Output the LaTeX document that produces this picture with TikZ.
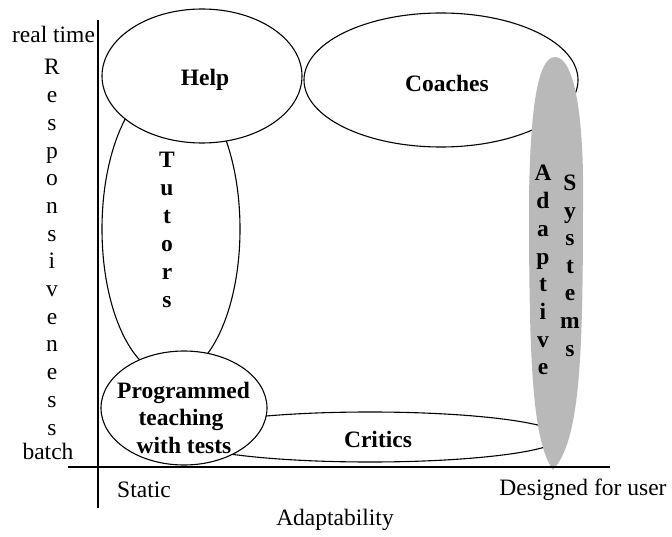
\documentclass[tikz,border=0pt]{standalone}
\usepackage{fontspec}
\setmainfont{Liberation Serif}
\usetikzlibrary{shapes.geometric}
\begin{document}
\begin{tikzpicture}[x=1pt,y=-1pt,
  region/.style={ellipse,draw=black,fill=white,line width=1.1pt,inner sep=0pt},
  lbl/.style={anchor=base,inner sep=0pt,font=\fontsize{23.5}{28}\selectfont},
  blbl/.style={lbl,font=\fontsize{23.5}{28}\selectfont\bfseries},
  axis/.style={line width=1.1pt}]
\useasboundingbox[fill=white] (0,0) rectangle (672,537);

% overlapping regions, later ones cover earlier ones
\node[region,minimum width=138pt,minimum height=294pt] (tutors) at (171,229) {};
\node[region,minimum width=200pt,minimum height=134pt] (help) at (202,76) {};
\node[region,minimum width=382pt,minimum height=50pt] (critics) at (370,437) {};
\node[region,minimum width=166pt,minimum height=114pt] (prog) at (184,408) {};
\node[region,minimum width=274pt,minimum height=134pt] (coaches) at (441,80) {};

% shaded band for adaptive systems
\fill[gray!55] (555,57) .. controls (575,57) and (584,120) .. (583,200)
  .. controls (583,360) and (580,440) .. (553,470)
  .. controls (532,440) and (529,360) .. (529,200)
  .. controls (530,120) and (536,57) .. (555,57);

% axes
\coordinate (ytop) at (98,20);
\coordinate (ybot) at (98,508);
\coordinate (xleft) at (68,467);
\coordinate (xright) at (610,467);
\draw[axis] (ytop) -- (ybot);
\draw[axis] (xleft) -- (xright);

% axis texts
\node[lbl] (realtime) at (53.5,43) {real time};
\node[lbl] (batch) at (48,459) {batch};
\foreach \c [count=\i] in {R,e,s,p,o,n,s,i,v,e,n,e,s,s}
  \node[lbl] (resp\i) at (52,75+27.7*\i-27.7) {\c};
\node[lbl] (static) at (144,497) {Static};
\node[lbl] (designed) at (583,495) {Designed for user};
\node[lbl] (adapt) at (335,525) {Adaptability};

% region texts
\node[blbl] (helptxt) at (205,86) {Help};
\node[blbl] (coachtxt) at (447,92) {Coaches};
\node[blbl] (crittxt) at (378,447) {Critics};
\node[blbl] (prog1) at (183.5,398) {Programmed};
\node[blbl] (prog2) at (181,425) {teaching};
\node[blbl] (prog3) at (184,453) {with tests};
\foreach \c [count=\i] in {T,u,t,o,r,s}
  \node[blbl] (tut\i) at (167,168+28*\i-28) {\c};
\foreach \c [count=\i] in {A,d,a,p,t,i,v,e}
  \node[blbl] (ad\i) at (543,181+27.7*\i-27.7) {\c};
\foreach \c [count=\i] in {S,y,s,t,e,m,s}
  \node[blbl] (sy\i) at (570,191+27.5*\i-27.5) {\c};
\end{tikzpicture}
\end{document}
